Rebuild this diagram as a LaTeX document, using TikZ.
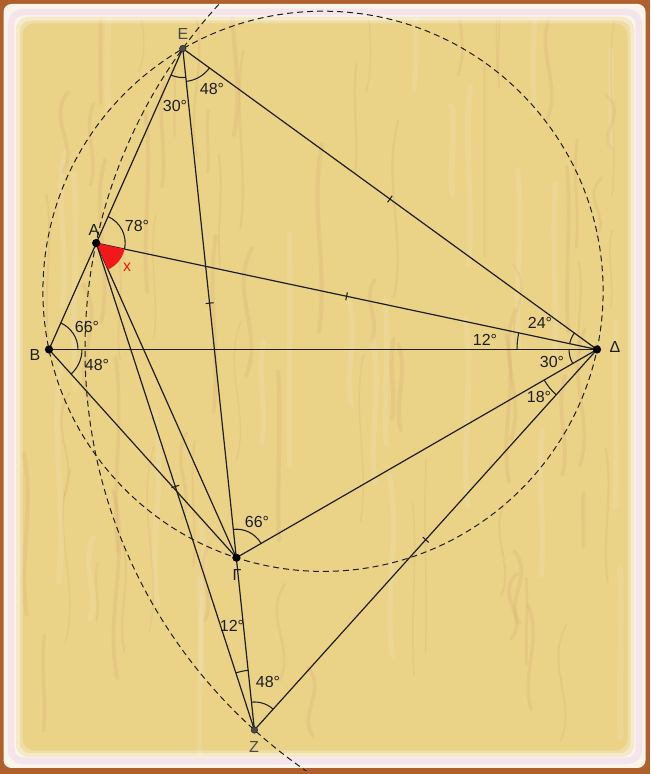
\documentclass[tikz,border=0pt]{standalone}
\usepackage{fontspec}
\setmainfont{Liberation Sans}
\usetikzlibrary{calc}
\definecolor{woodbase}{HTML}{EAD287}
\definecolor{woodgrain}{HTML}{D09A6C}
\definecolor{framebrown}{HTML}{B0602C}
\definecolor{bandlight}{HTML}{FBF4EA}
\definecolor{bandpink}{HTML}{F4E4EC}
\definecolor{inkline}{HTML}{1E1E1E}
\definecolor{graylabel}{HTML}{4A4A4A}
\definecolor{xred}{HTML}{F01818}
\newcommand{\tickmark}[3]{%
  \coordinate (#3) at ($(#1)!0.5!(#2)$);
  \draw[tickstyle] ($(#3)!3pt!90:(#2)$) -- ($(#3)!3pt!-90:(#2)$);}
\begin{document}
\begin{tikzpicture}[x=0.75pt,y=0.75pt,
  seg/.style={draw=inkline, line width=0.9pt},
  tickstyle/.style={draw=inkline, line width=0.8pt},
  anglearc/.style={draw=inkline, line width=0.8pt},
  dashcirc/.style={draw=inkline, line width=0.75pt, dash pattern=on 4.5pt off 3pt},
  bigdot/.style={circle, fill=black, inner sep=0pt, minimum size=6.2pt},
  smalldot/.style={circle, fill=graylabel, draw=inkline, line width=0.3pt, inner sep=0pt, minimum size=5pt},
  ptlabel/.style={text=inkline, font=\fontsize{12}{14}\selectfont, inner sep=0pt},
  graylab/.style={text=graylabel, font=\fontsize{12}{14}\selectfont, inner sep=0pt},
  anglab/.style={text=inkline, font=\fontsize{12}{14}\selectfont, inner sep=0pt}]
% ---------- frame and wood ----------
\fill[framebrown] (0,0) rectangle (650,774);
\fill[bandlight, rounded corners=6] (3.5,6) rectangle (645.5,770);
\draw[bandpink, line width=5pt, rounded corners=9] (11,13) rectangle (639,762);
\fill[woodbase, rounded corners=10] (16,17) rectangle (634,757);
\begin{scope}
  \clip[rounded corners=10] (16,17) rectangle (634,757);
  \pgfmathsetseed{12}
  \foreach \k in {1,...,70}{
    \pgfmathsetmacro\sx{20+610*rnd}
    \pgfmathsetmacro\sy{10+700*rnd}
    \pgfmathsetmacro\sl{50+150*rnd}
    \pgfmathsetmacro\sw{(rnd-0.5)*36}
    \pgfmathsetmacro\lw{0.8+2.4*rnd}
    \pgfmathsetmacro\ax{\sx+\sw}
    \pgfmathsetmacro\ay{\sy+\sl/3}
    \pgfmathsetmacro\bx{\sx-\sw}
    \pgfmathsetmacro\by{\sy+2*\sl/3}
    \pgfmathsetmacro\cx{\sx+\sw/3}
    \pgfmathsetmacro\cy{\sy+\sl}
    \draw[woodgrain, opacity=0.17, line width=\lw pt, line cap=round]
      (\sx,\sy) .. controls (\ax,\ay) and (\bx,\by) .. (\cx,\cy);
  }
  \foreach \k in {1,...,25}{
    \pgfmathsetmacro\sx{20+610*rnd}
    \pgfmathsetmacro\sy{10+700*rnd}
    \pgfmathsetmacro\sl{80+160*rnd}
    \pgfmathsetmacro\sw{(rnd-0.5)*20}
    \pgfmathsetmacro\ax{\sx+\sw}
    \pgfmathsetmacro\ay{\sy+\sl/3}
    \pgfmathsetmacro\bx{\sx-\sw}
    \pgfmathsetmacro\by{\sy+2*\sl/3}
    \pgfmathsetmacro\cx{\sx+\sw/3}
    \pgfmathsetmacro\cy{\sy+\sl}
    \draw[white, opacity=0.1, line width=4pt, line cap=round]
      (\sx,\sy) .. controls (\ax,\ay) and (\bx,\by) .. (\cx,\cy);
  }
  \draw[white, opacity=0.55, line width=3pt, rounded corners=10] (17.5,18.5) rectangle (632.5,755.5);
  \draw[white, opacity=0.25, line width=3pt, rounded corners=10] (20.5,21.5) rectangle (629.5,752.5);
\end{scope}
% ---------- points ----------
\coordinate (pD) at (597,424.5);
\coordinate (pB) at (49,424.5);
\coordinate (pA) at ($(pD)+(168:512)$);
\coordinate (pE) at ($(pD)+(144:512)$);
\coordinate (pZ) at ($(pD)+(228:512)$);
\coordinate (pG) at (236.4,216.3);
\coordinate (pO) at (323,482.7);
% ---------- dashed circles ----------
\draw[dashcirc] (pO) circle[radius=280.1];
\begin{scope}
  \clip (3,3) rectangle (647,771);
  \draw[dashcirc] (pD) circle[radius=512];
\end{scope}
% ---------- segments ----------
\draw[seg] (pE) -- (pB);
\draw[seg] (pE) -- (pZ);
\draw[seg] (pE) -- (pD);
\draw[seg] (pA) -- (pD);
\draw[seg] (pA) -- (pG);
\draw[seg] (pA) -- (pZ);
\draw[seg] (pB) -- (pD);
\draw[seg] (pB) -- (pG);
\draw[seg] (pG) -- (pD);
\draw[seg] (pD) -- (pZ);
% ---------- equal-length ticks ----------
\tickmark{pE}{pD}{mED}
\tickmark{pA}{pD}{mAD}
\tickmark{pD}{pZ}{mDZ}
\tickmark{pE}{pG}{mEG}
\tickmark{pA}{pZ}{mAZ}
% ---------- angles ----------
\fill[xred] (pA) -- ($(pA)+(-66:29)$) arc[start angle=-66, end angle=-12, radius=29] -- cycle;
\draw[anglearc] ($(pE)+(246:29)$) arc[start angle=246, end angle=276, radius=29];
\draw[anglearc] ($(pE)+(276:33)$) arc[start angle=276, end angle=324, radius=33];
\draw[anglearc] ($(pA)+(-12:29)$) arc[start angle=-12, end angle=66, radius=29];
\draw[anglearc] ($(pB)+(0:29)$) arc[start angle=0, end angle=66, radius=29];
\draw[anglearc] ($(pB)+(-48:33)$) arc[start angle=-48, end angle=0, radius=33];
\draw[anglearc] ($(pD)+(168:80)$) arc[start angle=168, end angle=180, radius=80];
\draw[anglearc] ($(pD)+(144:28)$) arc[start angle=144, end angle=168, radius=28];
\draw[anglearc] ($(pD)+(180:28)$) arc[start angle=180, end angle=210, radius=28];
\draw[anglearc] ($(pD)+(210:61)$) arc[start angle=210, end angle=228, radius=61];
\draw[anglearc] ($(pG)+(30:28.5)$) arc[start angle=30, end angle=96, radius=28.5];
\draw[anglearc] ($(pZ)+(96:60)$) arc[start angle=96, end angle=108, radius=60];
\draw[anglearc] ($(pZ)+(48:28)$) arc[start angle=48, end angle=96, radius=28];
% ---------- dots ----------
\node[bigdot] (A) at (pA) {};
\node[bigdot] (B) at (pB) {};
\node[bigdot] (D) at (pD) {};
\node[bigdot] (G) at (pG) {};
\node[smalldot] (E) at (pE) {};
\node[smalldot] (Z) at (pZ) {};
% ---------- point labels ----------
\node[graylab] (lE) at (183,740) {Ε};
\node[ptlabel] (lA) at (94,544) {Α};
\node[ptlabel] (lB) at (35,419) {Β};
\node[ptlabel] (lD) at (615,427) {Δ};
\node[ptlabel] (lG) at (237,199) {Γ};
\node[graylab] (lZ) at (254,27) {Ζ};
% ---------- angle labels ----------
\node[anglab] (t1) at (175,668) {30°};
\node[anglab] (t2) at (212,685) {48°};
\node[anglab] (t3) at (137,548) {78°};
\node[anglab, text=xred] (t4) at (127,507) {x};
\node[anglab] (t5) at (87,447) {66°};
\node[anglab] (t6) at (97,409) {48°};
\node[anglab] (t7) at (485,434) {12°};
\node[anglab] (t8) at (540,451) {24°};
\node[anglab] (t9) at (552,412) {30°};
\node[anglab] (t10) at (539,377) {18°};
\node[anglab] (t11) at (257,252) {66°};
\node[anglab] (t12) at (232,148) {12°};
\node[anglab] (t13) at (268,92) {48°};
\end{tikzpicture}
\end{document}
